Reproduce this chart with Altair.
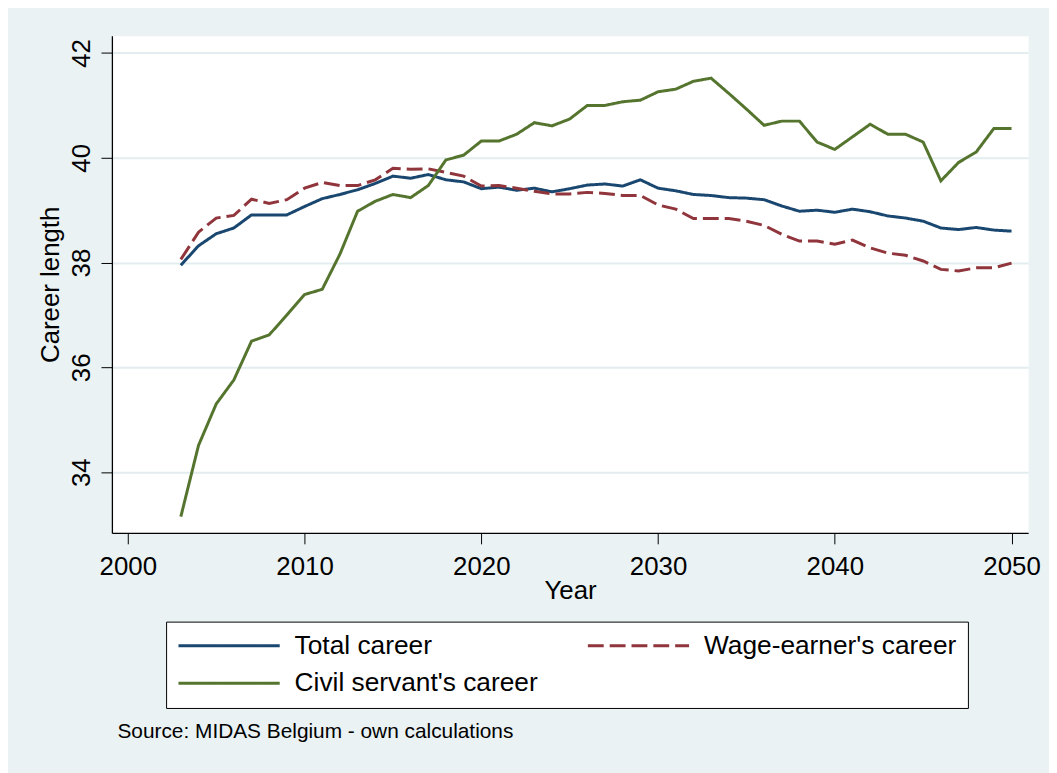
import altair as alt
import pandas as pd

years = list(range(2003, 2051))

total_career = [
    37.95, 38.32, 38.55, 38.66, 38.91, 38.91, 38.91, 39.07, 39.22, 39.30,
    39.39, 39.51, 39.65, 39.61, 39.68, 39.58, 39.54, 39.41, 39.44, 39.38,
    39.42, 39.35, 39.41, 39.48, 39.50, 39.46, 39.58, 39.42, 39.37, 39.30,
    39.28, 39.24, 39.23, 39.20, 39.08, 38.98, 39.00, 38.96, 39.02, 38.97,
    38.89, 38.85, 38.79, 38.66, 38.63, 38.67, 38.62, 38.60,
]

wage_earner_career = [
    38.06, 38.58, 38.85, 38.90, 39.21, 39.13, 39.20, 39.42, 39.53, 39.47,
    39.47, 39.58, 39.80, 39.78, 39.79, 39.72, 39.65, 39.46, 39.47, 39.42,
    39.36, 39.31, 39.31, 39.34, 39.32, 39.28, 39.28, 39.10, 39.02, 38.84,
    38.84, 38.84, 38.79, 38.71, 38.54, 38.41, 38.41, 38.35, 38.43, 38.28,
    38.18, 38.14, 38.03, 37.87, 37.84, 37.90, 37.90, 37.99,
]

civil_servant_career = [
    33.15, 34.51, 35.30, 35.76, 36.50, 36.62, 37.00, 37.39, 37.49, 38.16,
    38.98, 39.17, 39.30, 39.24, 39.47, 39.96, 40.05, 40.32, 40.32, 40.45,
    40.67, 40.61, 40.74, 41.00, 41.00, 41.07, 41.10, 41.26, 41.31, 41.46,
    41.52, 41.23, 40.93, 40.62, 40.70, 40.70, 40.30, 40.16, 40.40, 40.64,
    40.45, 40.45, 40.30, 39.56, 39.91, 40.11, 40.56, 40.56,
]

series_names = ["Total career", "Wage-earner's career", "Civil servant's career"]
series_colors = ["#1A476F", "#90353B", "#55752F"]
series_dashes = [[1, 0], [16, 6], [1, 0]]
series_widths = [3, 3, 2.4]

x_ticks = [2000, 2010, 2020, 2030, 2040, 2050]
y_ticks = [34, 36, 38, 40, 42]

source_note = "Source: MIDAS Belgium - own calculations"

rows = []
for name, vals in zip(series_names, [total_career, wage_earner_career, civil_servant_career]):
    for yr, v in zip(years, vals):
        rows.append({"year": yr, "value": v, "series": name})
df = pd.DataFrame(rows)

FONT = "Liberation Sans"

chart = alt.Chart(df).mark_line().encode(
    x=alt.X(
        "year:Q",
        scale=alt.Scale(domain=[1999.1, 2050.94], nice=False, zero=False),
        axis=alt.Axis(
            values=x_ticks, format="d", title="Year", grid=False,
            tickSize=11, labelPadding=30.7, labelBaseline="alphabetic",
            labelFlush=False, labelOverlap=False,
            titleY=66, titleBaseline="alphabetic",
        ),
    ),
    y=alt.Y(
        "value:Q",
        scale=alt.Scale(domain=[32.84, 42.33], nice=False, zero=False),
        axis=alt.Axis(
            values=y_ticks, title="Career length", grid=True,
            gridColor="#E3EDEF", gridWidth=2,
            tickSize=11, labelAngle=270, labelAlign="center",
            labelBaseline="alphabetic", labelPadding=11.7,
            titleAngle=270, titleX=-54, titleY=250.5,
            titleAlign="center", titleBaseline="alphabetic",
        ),
    ),
    color=alt.Color(
        "series:N",
        sort=series_names,
        scale=alt.Scale(domain=series_names, range=series_colors),
        legend=alt.Legend(
            title=None, orient="none", legendX=54.6, legendY=590.4,
            direction="horizontal",
            columns=2, symbolType="stroke", symbolSize=10404,
            symbolStrokeWidth=3, labelFontSize=26.5, labelFont=FONT,
            labelColor="black", labelOffset=13.5, symbolOffset=0,
            columnPadding=48.5, rowPadding=11.2, clipHeight=26,
            padding=11, fillColor="white", strokeColor="black",
            labelLimit=500,
        ),
    ),
    strokeDash=alt.StrokeDash(
        "series:N",
        sort=series_names,
        scale=alt.Scale(domain=series_names, range=series_dashes),
    ),
    strokeWidth=alt.StrokeWidth(
        "series:N",
        sort=series_names,
        scale=alt.Scale(domain=series_names, range=series_widths),
        legend=None,
    ),
).properties(
    width=923.3,
    height=501,
    autosize=alt.AutoSizeParams(type="none"),
    padding={"left": 104.7, "top": 25, "right": 21, "bottom": 239},
    background="#EAF2F3",
    title=alt.Title(
        source_note, orient="bottom", anchor="start", frame="group",
        fontSize=21, font=FONT, fontWeight="normal", color="black",
        dx=5.6, offset=13,
    ),
).configure_view(
    fill="white", stroke="transparent"
).configure_axis(
    domainColor="black", domainWidth=1.3, tickColor="black", tickWidth=1,
    labelColor="black", titleColor="black", labelFont=FONT, titleFont=FONT,
    labelFontSize=26, titleFontSize=26, titleFontWeight="normal",
)

chart.save("out.html", embed_options={"renderer": "svg", "actions": False})
